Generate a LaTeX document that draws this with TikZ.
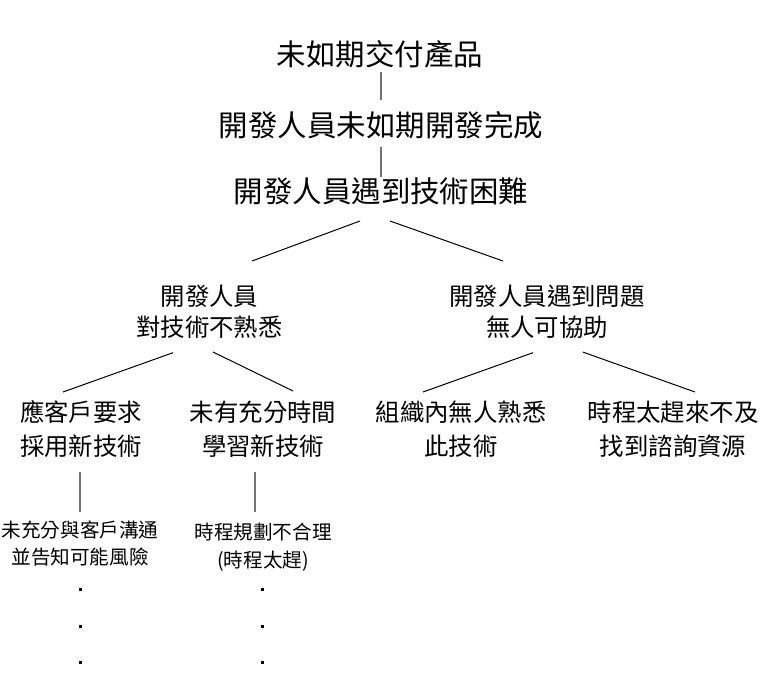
\documentclass[tikz,border=0pt]{standalone}
\usepackage{fontspec}
\setmainfont{Noto Sans CJK TC}
\usetikzlibrary{calc}

\begin{document}
\begin{tikzpicture}[x = 0.75pt, y = -0.75pt,
        titel/.style = {black, inner sep = 0, font = \fontsize{22.1}{26}\selectfont},
        ebenezwei/.style = {black, inner sep = 0, align = center, font = \fontsize{18.3}{22.9}\selectfont},
        ebenedrei/.style = {black, inner sep = 0, align = center, font = \fontsize{18.3}{25.5}\selectfont},
        ebenevier/.style = {black, inner sep = 0, align = center, font = \fontsize{14.7}{20.6}\selectfont},
        strich/.style = {black!55, line width = 1.5pt},
        ast/.style = {black, line width = 0.75pt}]
        % Umgebung
        \useasboundingbox (0, 0) rectangle (766, 675);

        % Texte
        \node[titel] (produkt) at (380, 54) {未如期交付產品};
        \node[titel] (verzug) at (381, 125) {開發人員未如期開發完成};
        \node[titel] (technik) at (381, 191) {開發人員遇到技術困難};
        \node[ebenezwei] (fremd) at (209.5, 312) {開發人員\\對技術不熟悉};
        \node[ebenezwei] (hilfe) at (547, 312) {開發人員遇到問題\\無人可協助};
        \node[ebenedrei] (kunde) at (81, 429) {應客戶要求\\採用新技術};
        \node[ebenedrei] (zeit) at (263, 429) {未有充分時間\\學習新技術};
        \node[ebenedrei] (niemand) at (461, 429) {組織內無人熟悉\\此技術};
        \node[ebenedrei] (eile) at (673, 429) {時程太趕來不及\\找到諮詢資源};
        \node[ebenevier] (absprache) at (80, 543.3) {未充分與客戶溝通\\並告知可能風險};
        \node[ebenevier] (plan) at (263, 547.3) {時程規劃不合理\\(時程太趕)};

        % Senkrechte Striche
        \draw[strich] ($(produkt) + (1, 18)$) -- ($(verzug) + (0, -25)$);
        \draw[strich] ($(verzug) + (0, 22)$) -- ($(technik) + (0, -14)$);
        \draw[strich] ($(kunde) + (-1, 43)$) -- ($(absprache) + (0, -31)$);
        \draw[strich] ($(zeit) + (-8, 43)$) -- ($(plan) + (-8, -35)$);

        % Verzweigungen
        \draw[ast] ($(technik) + (-21, 30)$) -- ($(fremd) + (42.5, -51)$);
        \draw[ast] ($(technik) + (9, 30)$) -- ($(hilfe) + (-44, -51)$);
        \draw[ast] ($(fremd) + (-36.5, 40.7)$) -- ($(kunde) + (-18, -37)$);
        \draw[ast] ($(fremd) + (3.5, 40)$) -- ($(zeit) + (30, -38)$);
        \draw[ast] ($(hilfe) + (-14, 40.7)$) -- ($(niemand) + (-38, -37)$);
        \draw[ast] ($(hilfe) + (35.7, 40)$) -- ($(eile) + (22, -37)$);

        % Punkte
        \foreach \d in {44.7, 81.7, 117.7}
            \fill ($(absprache) + (-1.5, \d)$) rectangle +(3, 3);
        \foreach \d in {40.7, 77.7, 113.7}
            \fill ($(plan) + (-1.8, \d)$) rectangle +(3, 3);

\end{tikzpicture}
\end{document}
